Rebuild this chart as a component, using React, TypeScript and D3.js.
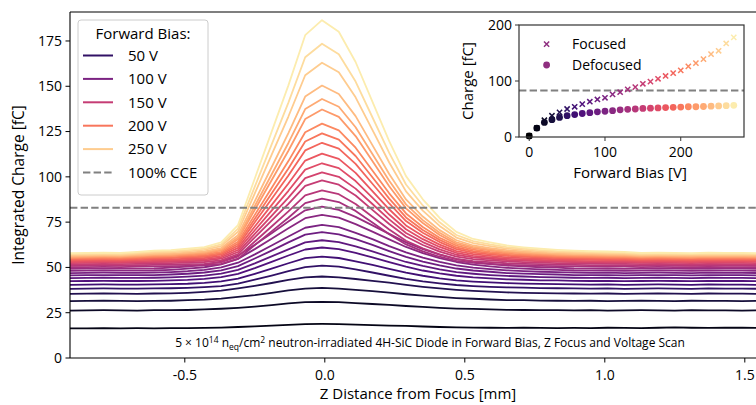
import React from "react";
import * as d3 from "d3";

// ---------- DATA ----------
const zPositions = [-0.91,-0.85,-0.79,-0.73,-0.67,-0.61,-0.55,-0.49,-0.43,-0.37,-0.31,-0.25,-0.19,-0.13,-0.07,-0.01,0.05,0.11,0.17,0.23,0.29,0.35,0.41,0.47,0.53,0.59,0.65,0.71,0.77,0.83,0.89,0.95,1.01,1.07,1.13,1.19,1.25,1.31,1.37,1.43,1.49,1.55];

const biasVoltages = [10,20,30,40,50,60,70,80,90,100,110,120,130,140,150,160,170,180,190,200,210,220,230,240,250,260,270];

const q10 = [16.4,16.3,16.5,16.4,16.5,16.4,16.5,16.5,16.6,16.8,17.1,17.5,17.9,18.3,18.7,18.8,18.7,18.4,18.2,17.9,17.7,17.4,17.1,16.9,16.8,16.7,16.6,16.8,16.6,16.5,16.6,16.5,16.7,16.6,16.5,16.7,16.9,16.7,16.6,16.8,16.7,16.6];
const q20 = [26.2,26.3,26.4,26.3,26.2,26.4,26.4,26.5,26.8,27.2,27.7,28.4,29.2,30.1,30.8,31.0,30.8,30.3,29.8,29.3,28.7,28.2,27.7,27.3,27.1,26.8,26.6,26.5,26.4,26.4,26.3,26.4,26.2,26.3,26.4,26.3,26.2,26.4,26.3,26.3,26.2,26.3];
const q30 = [31.4,31.5,31.6,31.5,31.4,31.5,31.6,31.9,32.2,32.8,33.7,34.7,36.0,37.3,38.3,38.7,38.3,37.6,36.9,36.1,35.2,34.4,33.7,33.1,32.7,32.3,32.0,31.9,31.7,31.6,31.5,31.6,31.4,31.5,31.6,31.5,31.4,31.6,31.5,31.5,31.4,31.5];
const q40 = [35.4,35.5,35.6,35.5,35.4,35.6,35.7,36.0,36.5,37.2,38.4,39.8,41.4,43.1,44.5,45.0,44.5,43.6,42.6,41.6,40.4,39.3,38.4,37.6,37.0,36.6,36.2,36.0,35.8,35.7,35.6,35.5,35.6,35.4,35.5,35.6,35.5,35.4,35.6,35.5,35.5,35.4];
const q50 = [38.2,38.3,38.4,38.3,38.3,38.4,38.5,38.7,39.1,39.7,41.0,43.2,45.5,48.0,50.2,51.0,50.4,48.9,47.2,45.4,43.7,42.3,41.2,40.3,39.7,39.3,39.0,38.8,38.6,38.5,38.4,38.3,38.4,38.2,38.3,38.4,38.3,38.2,38.4,38.3,38.3,38.2];
const q60 = [40.4,40.5,40.6,40.5,40.5,40.6,40.8,41.0,41.5,42.3,43.8,46.5,49.3,52.3,55.1,56.0,55.2,53.4,51.4,49.2,47.1,45.4,44.0,42.9,42.2,41.7,41.3,41.1,40.9,40.8,40.6,40.5,40.6,40.4,40.5,40.6,40.5,40.4,40.6,40.5,40.5,40.4];
const q70 = [42.4,42.5,42.6,42.5,42.5,42.6,42.8,43.1,43.7,44.6,46.4,49.6,53.1,56.6,59.9,61.0,60.1,58.0,55.5,52.9,50.4,48.3,46.7,45.4,44.5,43.9,43.4,43.2,42.9,42.8,42.6,42.5,42.6,42.4,42.5,42.6,42.5,42.4,42.6,42.5,42.5,42.4];
const q80 = [44.1,44.2,44.3,44.2,44.2,44.3,44.5,44.9,45.5,46.6,48.6,52.2,56.1,60.0,63.8,65.0,64.0,61.6,58.8,55.9,53.0,50.8,48.9,47.4,46.5,45.8,45.3,45.0,44.7,44.5,44.3,44.2,44.3,44.1,44.2,44.3,44.2,44.1,44.3,44.2,44.2,44.1];
const q90 = [45.6,45.7,45.8,45.7,45.7,45.8,46.1,46.5,47.2,48.4,50.7,54.9,59.3,63.8,68.1,69.5,68.3,65.6,62.4,59.0,55.8,53.2,51.1,49.4,48.3,47.6,46.9,46.6,46.3,46.1,45.8,45.7,45.8,45.6,45.7,45.8,45.7,45.6,45.8,45.7,45.7,45.6];
const q100 = [46.9,47.0,47.1,47.0,47.0,47.1,47.4,47.9,48.7,50.0,52.6,57.2,62.1,67.1,71.9,73.5,72.2,69.1,65.6,61.8,58.3,55.4,53.0,51.1,49.9,49.1,48.4,48.0,47.6,47.4,47.1,47.0,47.1,46.9,47.0,47.1,47.0,46.9,47.1,47.0,47.0,46.9];
const q110 = [48.1,48.2,48.3,48.2,48.2,48.3,48.7,49.3,50.1,51.7,54.7,60.1,65.8,71.6,77.2,79.0,77.5,73.9,69.8,65.5,61.3,57.9,55.1,53.0,51.6,50.6,49.8,49.3,48.9,48.7,48.3,48.2,48.3,48.1,48.2,48.3,48.2,48.1,48.3,48.2,48.2,48.1];
const q120 = [49.2,49.3,49.4,49.3,49.3,49.4,49.9,50.5,51.5,53.2,56.5,62.5,68.8,75.3,81.5,83.5,81.8,77.9,73.2,68.5,63.8,60.1,57.0,54.6,53.1,52.0,51.0,50.6,50.1,49.9,49.4,49.3,49.4,49.2,49.3,49.4,49.3,49.2,49.4,49.3,49.3,49.2];
const q130 = [50.1,50.2,50.3,50.2,50.4,50.6,50.7,50.9,51.2,51.9,54.7,62.3,69.9,77.4,85.5,88.0,86.1,81.2,74.8,68.3,62.7,58.9,55.9,53.6,52.5,51.9,51.4,51.1,50.9,50.7,50.6,50.5,50.4,50.4,50.2,50.3,50.2,50.1,50.3,50.2,50.2,50.1];
const q140 = [50.9,51.0,51.1,51.0,51.2,51.4,51.5,51.8,52.0,52.9,56.0,64.3,72.6,80.9,89.8,92.5,90.4,85.0,78.0,70.9,64.7,60.6,57.2,54.7,53.5,52.9,52.3,52.0,51.8,51.5,51.4,51.3,51.3,51.2,51.0,51.1,51.0,50.9,51.1,51.0,51.0,50.9];
const q150 = [51.7,51.8,51.9,51.8,52.0,52.3,52.4,52.6,53.0,53.9,57.3,66.6,75.8,85.1,95.0,98.0,95.7,89.7,81.8,74.0,67.1,62.4,58.7,56.0,54.6,53.9,53.3,52.9,52.6,52.4,52.3,52.2,52.1,52.0,51.8,51.9,51.8,51.7,51.9,51.8,51.8,51.7];
const q160 = [52.4,52.5,52.6,52.5,52.8,53.0,53.1,53.4,53.8,54.8,58.5,68.5,78.5,88.5,99.3,102.5,100.0,93.5,85.0,76.5,69.0,64.0,60.0,57.0,55.5,54.8,54.1,53.7,53.4,53.2,53.0,52.9,52.8,52.8,52.5,52.6,52.5,52.4,52.6,52.5,52.5,52.4];
const q170 = [53.0,53.1,53.2,53.1,53.4,53.6,53.8,54.1,54.5,55.6,59.6,70.5,81.4,92.3,104.0,107.5,104.8,97.7,88.5,79.2,71.1,65.6,61.3,58.0,56.4,55.6,54.8,54.4,54.1,53.8,53.6,53.5,53.4,53.4,53.1,53.2,53.1,53.0,53.2,53.1,53.1,53.0];
const q180 = [53.6,53.7,53.8,53.7,54.0,54.3,54.4,54.8,55.2,56.4,60.8,72.6,84.4,96.3,109.0,112.8,109.9,102.2,92.1,82.1,73.2,67.3,62.6,59.0,57.3,56.4,55.6,55.1,54.8,54.5,54.3,54.2,54.1,54.0,53.7,53.8,53.7,53.6,53.8,53.7,53.7,53.6];
const q190 = [54.2,54.3,54.4,54.3,54.6,55.0,55.1,55.5,55.9,57.2,62.0,74.9,87.8,100.7,114.6,118.8,115.6,107.2,96.2,85.3,75.6,69.1,64.0,60.1,58.2,57.2,56.4,55.9,55.5,55.1,55.0,54.8,54.7,54.6,54.3,54.4,54.3,54.2,54.4,54.3,54.3,54.2];
const q200 = [54.7,54.8,54.9,54.8,55.2,55.5,55.6,56.1,56.5,57.9,63.1,76.9,90.8,104.6,119.5,124.0,120.5,111.5,99.8,88.0,77.6,70.7,65.2,61.0,59.0,57.9,57.0,56.5,56.1,55.7,55.5,55.4,55.2,55.2,54.8,54.9,54.8,54.7,54.9,54.8,54.8,54.7];
const q210 = [55.2,55.3,55.4,55.3,55.7,56.0,56.2,56.6,57.2,58.6,64.2,79.0,93.8,108.7,124.6,129.4,125.7,116.1,103.5,90.9,79.8,72.3,66.4,62.0,59.8,58.6,57.7,57.1,56.6,56.3,56.0,55.9,55.7,55.7,55.3,55.4,55.3,55.2,55.4,55.3,55.3,55.2];
const q220 = [55.6,55.7,55.8,55.7,56.1,56.5,56.7,57.2,57.7,59.4,65.5,81.8,98.1,114.4,131.9,137.2,133.1,122.5,108.7,94.8,82.6,74.5,67.9,63.0,60.6,59.4,58.3,57.7,57.2,56.8,56.5,56.4,56.2,56.1,55.7,55.8,55.7,55.6,55.8,55.7,55.7,55.6];
const q230 = [56.0,56.1,56.2,56.1,56.5,57.0,57.1,57.7,58.3,60.0,66.5,83.9,101.3,118.7,137.4,143.0,138.7,127.4,112.6,97.8,84.8,76.1,69.1,63.9,61.3,60.0,58.9,58.2,57.7,57.2,57.0,56.8,56.6,56.5,56.1,56.2,56.1,56.0,56.2,56.1,56.1,56.0];
const q240 = [56.4,56.5,56.6,56.5,57.0,57.4,57.6,58.2,58.9,60.7,67.8,86.6,105.3,124.1,144.3,150.4,145.7,133.5,117.5,101.6,87.5,78.1,70.6,65.0,62.1,60.7,59.5,58.8,58.2,57.7,57.4,57.3,57.1,57.0,56.5,56.6,56.5,56.4,56.6,56.5,56.5,56.4];
const q250 = [56.9,57.0,57.1,57.0,57.5,58.1,58.3,58.9,59.7,61.8,69.7,90.9,112.1,133.3,156.1,163.0,157.7,143.9,125.9,107.9,92.0,81.4,72.9,66.5,63.4,61.8,60.4,59.5,58.9,58.4,58.1,57.9,57.6,57.5,57.0,57.1,57.0,56.9,57.1,57.0,57.0,56.9];
const q260 = [57.4,57.5,57.6,57.5,58.1,58.7,58.9,59.6,60.4,62.7,71.4,94.6,117.8,141.0,166.0,173.5,167.7,152.6,132.9,113.2,95.8,84.2,74.9,67.9,64.5,62.7,61.2,60.3,59.6,59.0,58.7,58.4,58.2,58.1,57.5,57.6,57.5,57.4,57.6,57.5,57.5,57.4];
const q270 = [57.9,58.0,58.1,58.0,58.6,59.3,59.5,60.3,61.2,63.8,73.4,99.1,124.8,150.5,178.2,186.5,180.1,163.4,141.5,119.7,100.4,87.6,77.3,69.6,65.7,63.8,62.1,61.1,60.3,59.7,59.3,59.0,58.8,58.6,58.0,58.1,58.0,57.9,58.1,58.0,58.0,57.9];

const scanSeries = [q10,q20,q30,q40,q50,q60,q70,q80,q90,q100,q110,q120,q130,q140,q150,q160,q170,q180,q190,q200,q210,q220,q230,q240,q250,q260,q270];

const legendVoltages = [50, 100, 150, 200, 250];
const cceLevel = 83;

const yTicks = [0, 25, 50, 75, 100, 125, 150, 175];
const xTicks = [-0.5, 0.0, 0.5, 1.0, 1.5];
const xTickLabels = ["-0.5", "0.0", "0.5", "1.0", "1.5"];

const insetBias = [0,10,20,30,40,50,60,70,80,90,100,110,120,130,140,150,160,170,180,190,200,210,220,230,240,250,260,270];
const focusedCharge = [2,16,30,38,44,50,54,58.6,63,67,70,76,80,85,89,95,99,104,109,114,119,126,132,139,148,154,167,178];
const defocusedCharge = [2,16,26,31,35,38,40,42,43.5,45,46,47,48.5,49.5,50,51,51.5,52,52.5,53,53.5,54,54,54.5,55,55.5,56,56.5];
const insetXTicks = [0, 100, 200];
const insetYTicks = [0, 100, 200];

// ---------- LAYOUT ----------
const W = 756, H = 405;
const FONT = "'Open Sans', 'Noto Sans', sans-serif";
const colorOf = (v: number) => d3.interpolateMagma(v / 280);

export default function App() {
  const x = d3.scaleLinear().domain([-0.91, 1.55]).range([70, 758.8]);
  const y = d3.scaleLinear().domain([0, 191]).range([358, 12]);
  const line = d3.line<number>().x((_, i) => x(zPositions[i])).y((d) => y(d));

  const ix = d3.scaleLinear().domain([-13.5, 283.5]).range([519, 744]);
  const iy = d3.scaleLinear().domain([0, 200]).range([137, 25]);

  const legendRows = [...legendVoltages.map((v) => ({ label: `${v} V`, color: colorOf(v), dashed: false })), { label: "100% CCE", color: "#808080", dashed: true }];

  return (
    <svg width={W} height={H} style={{ position: "absolute", left: 0, top: 0, background: "#fff" }} fontFamily={FONT}>
      <rect x={0} y={0} width={W} height={H} fill="#fff" />
      {/* main curves */}
      <g>
        {scanSeries.map((s, i) => (
          <path key={i} d={line(s) || ""} fill="none" stroke={colorOf(biasVoltages[i])} strokeWidth={1.8} strokeLinejoin="round" />
        ))}
      </g>
      <line x1={x.range()[0]} x2={x.range()[1]} y1={y(cceLevel)} y2={y(cceLevel)} stroke="#808080" strokeWidth={2} strokeDasharray="7.4 3.2" />

      {/* spines */}
      <line x1={70} x2={70} y1={12} y2={358} stroke="#000" strokeWidth={1.1} />
      <line x1={70} x2={W} y1={358} y2={358} stroke="#000" strokeWidth={1.1} />
      <line x1={70} x2={W} y1={12} y2={12} stroke="#000" strokeWidth={1.1} />

      {/* y ticks */}
      {yTicks.map((t) => (
        <g key={t}>
          <line x1={65.5} x2={70} y1={y(t)} y2={y(t)} stroke="#000" strokeWidth={1} />
          <text x={62} y={y(t)} dy="0.35em" textAnchor="end" fontSize={14}>{t}</text>
        </g>
      ))}
      {xTicks.map((t, i) => (
        <g key={t}>
          <line x1={x(t)} x2={x(t)} y1={358} y2={362.5} stroke="#000" strokeWidth={1} />
          <text x={x(t)} y={380} textAnchor="middle" fontSize={14}>{xTickLabels[i]}</text>
        </g>
      ))}
      <text x={418} y={399} textAnchor="middle" fontSize={15}>Z Distance from Focus [mm]</text>
      <text transform={`translate(24,185) rotate(-90)`} textAnchor="middle" fontSize={15.5}>Integrated Charge [fC]</text>

      {/* annotation */}
      <text x={430} y={347} textAnchor="middle" fontSize={12}>
        5 × 10<tspan fontSize={8.5} dy={-4.5}>14</tspan>
        <tspan dy={4.5}> n</tspan><tspan fontSize={8.5} dy={2.5}>eq</tspan>
        <tspan dy={-2.5}>/cm</tspan><tspan fontSize={8.5} dy={-4.5}>2</tspan>
        <tspan dy={4.5}> neutron-irradiated 4H-SiC Diode in Forward Bias, Z Focus and Voltage Scan</tspan>
      </text>

      {/* legend */}
      <rect x={78} y={20} width={130} height={175} rx={3} fill="#fff" fillOpacity={0.85} stroke="#cccccc" strokeWidth={1} />
      <text x={143} y={39} textAnchor="middle" fontSize={15}>Forward Bias:</text>
      {legendRows.map((r, i) => {
        const cy = 55.5 + i * 23.4;
        return (
          <g key={r.label}>
            <line x1={83} x2={113} y1={cy} y2={cy} stroke={r.color} strokeWidth={2} strokeDasharray={r.dashed ? "7.4 3.2" : undefined} />
            <text x={128} y={cy} dy="0.35em" fontSize={15}>{r.label}</text>
          </g>
        );
      })}

      {/* inset */}
      <rect x={519} y={25} width={225} height={112} fill="#fff" />
      <line x1={519} x2={744} y1={iy(cceLevel)} y2={iy(cceLevel)} stroke="#808080" strokeWidth={2} strokeDasharray="7.4 3.2" />
      {insetBias.map((v, i) => (
        <circle key={"d" + v} cx={ix(v)} cy={iy(defocusedCharge[i])} r={3.4} fill={colorOf(v)} />
      ))}
      {insetBias.map((v, i) => {
        const cx = ix(v), cy = iy(focusedCharge[i]), s = 2.6;
        return (
          <path key={"f" + v} d={`M${cx - s},${cy - s}L${cx + s},${cy + s}M${cx - s},${cy + s}L${cx + s},${cy - s}`} stroke={colorOf(v)} strokeWidth={1.5} fill="none" />
        );
      })}
      <rect x={519} y={25} width={225} height={112} fill="none" stroke="#333" strokeWidth={1.2} />
      {insetYTicks.map((t) => (
        <g key={"iy" + t}>
          <line x1={515} x2={519} y1={iy(t)} y2={iy(t)} stroke="#333" strokeWidth={1} />
          <text x={512} y={iy(t)} dy="0.35em" textAnchor="end" fontSize={14}>{t}</text>
        </g>
      ))}
      {insetXTicks.map((t) => (
        <g key={"ix" + t}>
          <line x1={ix(t)} x2={ix(t)} y1={137} y2={141} stroke="#333" strokeWidth={1} />
          <text x={ix(t)} y={157} textAnchor="middle" fontSize={14}>{t}</text>
        </g>
      ))}
      <text x={630} y={178} textAnchor="middle" fontSize={15}>Forward Bias [V]</text>
      <text transform={`translate(473,81) rotate(-90)`} textAnchor="middle" fontSize={15}>Charge [fC]</text>
      {/* inset legend */}
      <path d="M544,41.5L549.2,46.7M544,46.7L549.2,41.5" stroke="#8f2f80" strokeWidth={1.5} />
      <text x={572} y={44} dy="0.35em" fontSize={14}>Focused</text>
      <circle cx={546.6} cy={65} r={3.4} fill="#8f2f80" />
      <text x={572} y={65} dy="0.35em" fontSize={14}>Defocused</text>
    </svg>
  );
}
